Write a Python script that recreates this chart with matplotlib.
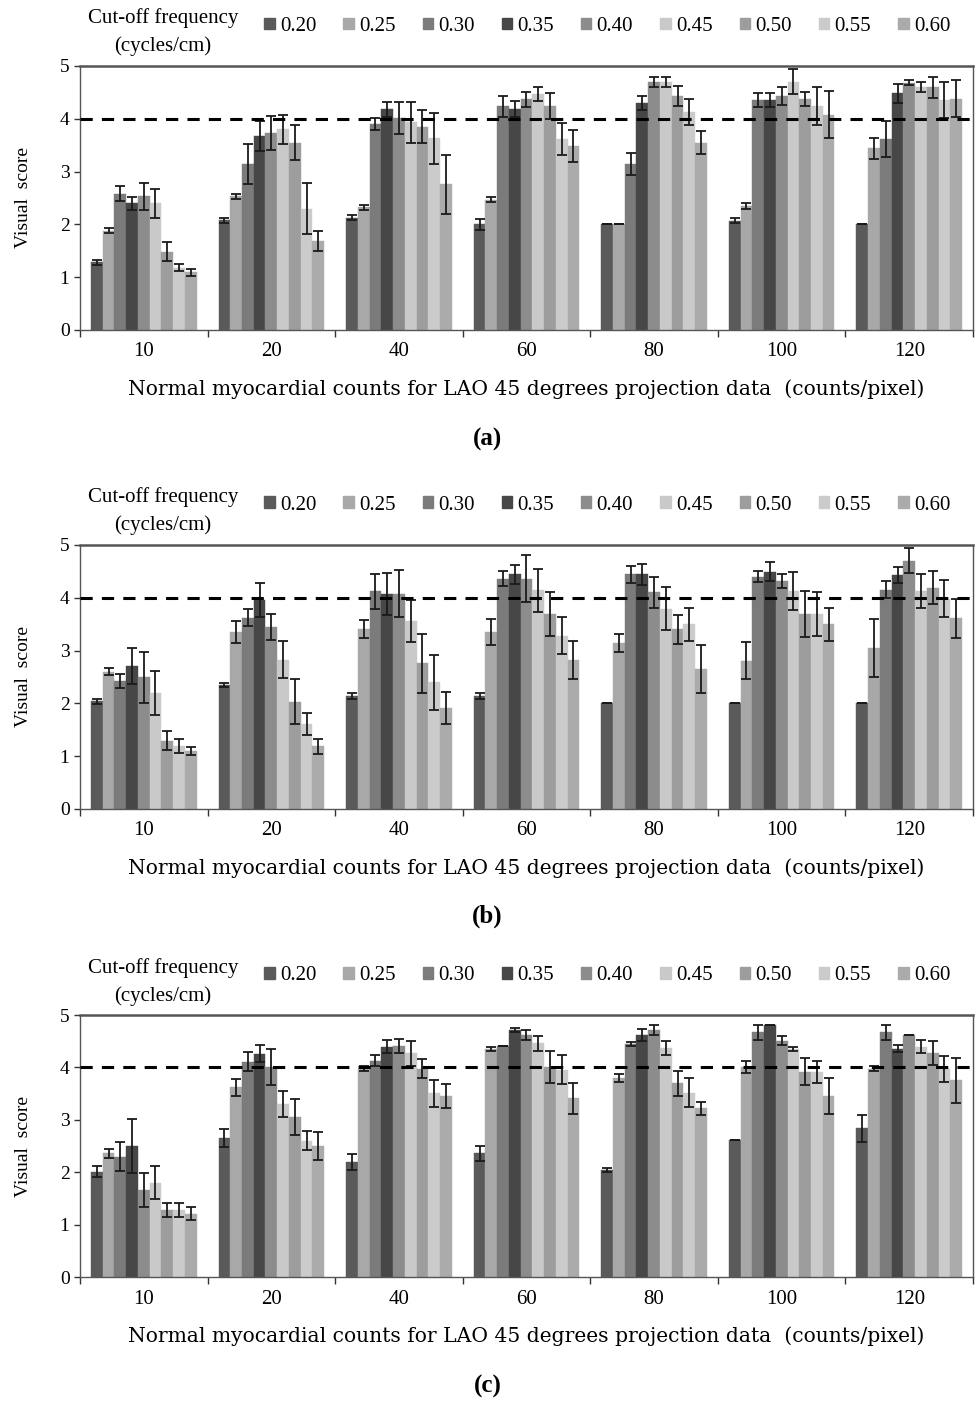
import numpy as np
import matplotlib
matplotlib.use('Agg')
import matplotlib.pyplot as plt
from matplotlib.patches import Patch

plt.rcParams['font.family'] = ['Liberation Serif', 'DejaVu Serif']

# Datos: recuentos (grupos) y frecuencias de corte (series)
counts = ['10', '20', '40', '60', '80', '100', '120']
cutoffs = ['0.20', '0.25', '0.30', '0.35', '0.40', '0.45', '0.50', '0.55', '0.60']
colors = ['#5a5a5a', '#a8a8a8', '#7b7b7b', '#474747', '#8c8c8c',
          '#c9c9c9', '#9d9d9d', '#cbcbcb', '#ababab']

# Panel (a): media y desviación por grupo (filas) y frecuencia (columnas)
means_a = [
    [1.28, 1.88, 2.58, 2.40, 2.53, 2.40, 1.48, 1.18, 1.09],
    [2.08, 2.53, 3.14, 3.67, 3.73, 3.80, 3.55, 2.30, 1.68],
    [2.13, 2.32, 3.90, 4.18, 4.02, 3.93, 3.85, 3.63, 2.76],
    [2.00, 2.47, 4.24, 4.18, 4.37, 4.47, 4.24, 3.62, 3.49],
    [2.00, 2.00, 3.15, 4.30, 4.70, 4.70, 4.43, 4.13, 3.55],
    [2.07, 2.35, 4.35, 4.35, 4.43, 4.70, 4.38, 4.24, 4.08],
    [2.00, 3.44, 3.61, 4.48, 4.68, 4.60, 4.60, 4.36, 4.38],
]
err_a = [
    [0.05, 0.05, 0.14, 0.12, 0.25, 0.27, 0.18, 0.07, 0.07],
    [0.05, 0.05, 0.38, 0.28, 0.33, 0.28, 0.34, 0.48, 0.19],
    [0.05, 0.05, 0.12, 0.14, 0.30, 0.38, 0.31, 0.48, 0.56],
    [0.10, 0.05, 0.20, 0.15, 0.14, 0.14, 0.25, 0.30, 0.30],
    [0.00, 0.00, 0.21, 0.13, 0.10, 0.10, 0.19, 0.25, 0.21],
    [0.05, 0.06, 0.13, 0.13, 0.17, 0.24, 0.13, 0.36, 0.44],
    [0.00, 0.20, 0.34, 0.18, 0.05, 0.10, 0.20, 0.34, 0.35],
]

# Panel (b)
means_b = [
    [2.04, 2.60, 2.43, 2.70, 2.49, 2.19, 1.29, 1.19, 1.10],
    [2.35, 3.35, 3.62, 3.96, 3.45, 2.83, 2.03, 1.61, 1.19],
    [2.14, 3.40, 4.12, 4.07, 4.08, 3.56, 2.76, 2.40, 1.91],
    [2.14, 3.35, 4.36, 4.44, 4.36, 4.14, 3.69, 3.28, 2.83],
    [2.00, 3.15, 4.44, 4.44, 4.10, 3.79, 3.40, 3.50, 2.65],
    [2.00, 2.81, 4.40, 4.49, 4.31, 4.13, 3.69, 3.69, 3.50],
    [2.00, 3.04, 4.15, 4.43, 4.70, 4.13, 4.19, 3.98, 3.61],
]
err_b = [
    [0.05, 0.07, 0.13, 0.34, 0.49, 0.42, 0.18, 0.13, 0.07],
    [0.04, 0.20, 0.16, 0.32, 0.25, 0.35, 0.43, 0.21, 0.14],
    [0.05, 0.17, 0.33, 0.39, 0.44, 0.40, 0.56, 0.52, 0.30],
    [0.05, 0.24, 0.14, 0.18, 0.45, 0.41, 0.41, 0.35, 0.36],
    [0.00, 0.17, 0.16, 0.20, 0.29, 0.41, 0.28, 0.31, 0.46],
    [0.00, 0.35, 0.11, 0.18, 0.13, 0.36, 0.44, 0.41, 0.31],
    [0.00, 0.55, 0.16, 0.15, 0.24, 0.32, 0.31, 0.35, 0.37],
]

# Panel (c)
means_c = [
    [2.01, 2.36, 2.30, 2.50, 1.66, 1.80, 1.28, 1.28, 1.21],
    [2.65, 3.62, 4.11, 4.26, 4.01, 3.30, 3.06, 2.60, 2.50],
    [2.20, 3.98, 4.13, 4.40, 4.41, 4.27, 3.98, 3.51, 3.46],
    [2.36, 4.35, 4.41, 4.72, 4.62, 4.46, 4.01, 3.96, 3.41],
    [2.04, 3.80, 4.45, 4.62, 4.72, 4.37, 3.70, 3.52, 3.22],
    [2.61, 4.01, 4.67, 4.82, 4.51, 4.35, 3.92, 3.92, 3.46],
    [2.84, 3.98, 4.67, 4.36, 4.62, 4.40, 4.27, 3.97, 3.76],
]
err_c = [
    [0.10, 0.09, 0.28, 0.52, 0.32, 0.31, 0.13, 0.13, 0.13],
    [0.17, 0.16, 0.18, 0.16, 0.35, 0.25, 0.34, 0.18, 0.27],
    [0.15, 0.05, 0.10, 0.12, 0.14, 0.24, 0.18, 0.26, 0.23],
    [0.15, 0.04, 0.00, 0.04, 0.09, 0.15, 0.30, 0.28, 0.30],
    [0.04, 0.07, 0.04, 0.12, 0.10, 0.13, 0.24, 0.27, 0.13],
    [0.00, 0.11, 0.15, 0.00, 0.09, 0.04, 0.26, 0.21, 0.34],
    [0.26, 0.05, 0.14, 0.07, 0.00, 0.13, 0.23, 0.24, 0.43],
]

xlabel = 'Normal myocardial counts for LAO 45 degrees projection data  (counts/pixel)'

fig = plt.figure(figsize=(9.75, 14.03), dpi=100)

# posiciones de los paneles [izq, abajo, ancho, alto] en fracción de figura
paneles = [
    ('(a)', means_a, err_a, [0.082, 0.7648, 0.916, 0.1882], 0.687),
    ('(b)', means_b, err_b, [0.082, 0.4234, 0.916, 0.1882], 0.347),
    ('(c)', means_c, err_c, [0.082, 0.0898, 0.916, 0.1867], 0.012),
]

x = np.arange(len(counts))
n = len(cutoffs)
w = 0.092

for etiqueta, means, errs, rect, ylab in paneles:
    ax = fig.add_axes(rect)
    means = np.array(means)
    errs = np.array(errs)
    for j in range(n):
        pos = x - (n - 1) / 2 * w + j * w
        ax.bar(pos, means[:, j], width=w, color=colors[j], edgecolor=colors[j],
               linewidth=0.3, zorder=2)
        ax.errorbar(pos, means[:, j], yerr=errs[:, j], fmt='none', ecolor='#1a1a1a',
                    elinewidth=1.3, capsize=3.5, capthick=1.3, zorder=3)

    ax.axhline(4, color='black', linestyle=(0, (4, 3)), linewidth=2.2, zorder=4)

    ax.set_xlim(-0.5, len(counts) - 0.5)
    ax.set_ylim(0, 5)
    ax.set_yticks([0, 1, 2, 3, 4, 5])
    ax.set_xticks(x)
    ax.set_xticklabels(counts, fontsize=15)
    ax.set_xticks(np.arange(len(counts) + 1) - 0.5, minor=True)
    ax.tick_params(axis='x', which='major', length=0, pad=9)
    ax.tick_params(axis='x', which='minor', length=5, width=1, color='#333333')
    ax.tick_params(axis='y', labelsize=14, length=4, width=1, color='#333333')
    for s in ax.spines.values():
        s.set_color('#555555')
        s.set_linewidth(1.0)
    ax.spines['top'].set_linewidth(1.8)

    ax.set_xlabel(xlabel, fontsize=14.6, family='DejaVu Serif', labelpad=13)
    ax.set_ylabel('Visual  score', fontsize=14, labelpad=20)

    handles = [Patch(facecolor=c, edgecolor=c) for c in colors]
    ax.legend(handles, cutoffs, ncol=9, loc='center left', bbox_to_anchor=(0.197, 1.15),
              frameon=False, fontsize=15, handlelength=0.5, handleheight=0.5,
              handletextpad=0.25, columnspacing=1.3, borderaxespad=0)
    ax.text(0.093, 1.127, 'Cut-off frequency\n(cycles/cm)', transform=ax.transAxes,
            ha='center', va='center', fontsize=15, linespacing=1.55)

    fig.text(0.5, ylab, etiqueta, ha='center', va='center', fontsize=18, fontweight='bold')

fig.savefig('out.png', dpi=100)
